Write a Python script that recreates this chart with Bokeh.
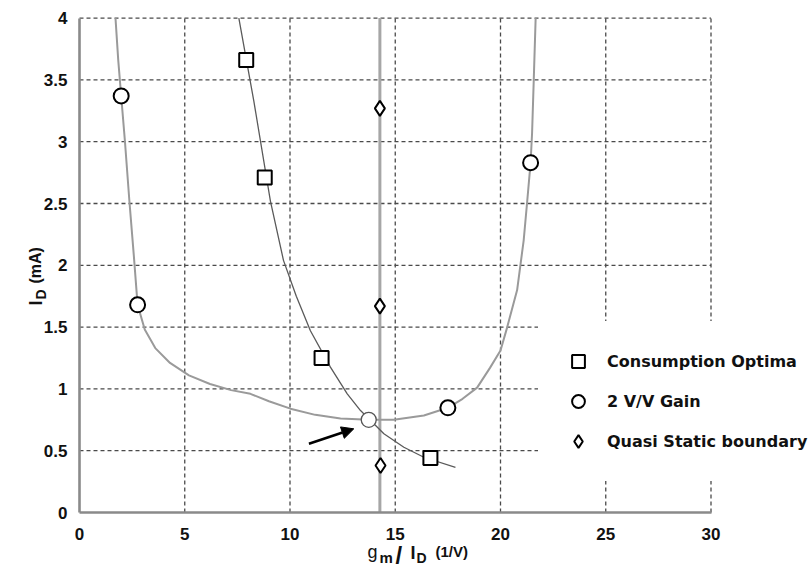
import math
from bokeh.plotting import figure
from bokeh.models import (Range1d, FixedTicker, Legend, LegendItem, Arrow,
                          NormalHead, Label)
from bokeh.embed import file_html
from bokeh.resources import INLINE

# ---- data -------------------------------------------------------------
# 2 V/V gain contour (I_D vs gm/ID)
gain_curve_x = [1.71, 1.84, 1.98, 2.16, 2.37, 2.58, 2.76, 3.1, 3.6, 4.3, 5.2,
                6.2, 7.2, 8.12, 9.0, 10.02, 11.2, 12.4, 13.74, 14.93, 16.36,
                17.5, 18.2, 18.89, 19.5, 20.0, 20.32, 20.79, 21.1, 21.27,
                21.43, 21.5, 21.58, 21.67]
gain_curve_y = [4.0, 3.66, 3.37, 3.0, 2.52, 2.08, 1.68, 1.48, 1.33, 1.21, 1.11,
                1.04, 0.99, 0.96, 0.9, 0.84, 0.79, 0.76, 0.75, 0.75, 0.785,
                0.847, 0.92, 1.01, 1.17, 1.31, 1.5, 1.8, 2.2, 2.52,
                2.83, 3.07, 3.5, 4.0]

# consumption-optimum contour
cons_curve_x = [7.57, 8.28, 9.07, 9.69, 10.3, 10.97, 11.92, 12.72, 13.35,
                14.46, 15.41, 16.36, 17.86]
cons_curve_y = [4.0, 3.33, 2.52, 2.04, 1.75, 1.47, 1.176, 0.96, 0.825,
                0.637, 0.528, 0.447, 0.366]

cons_x = [7.92, 8.80, 11.5, 16.67]
cons_y = [3.66, 2.71, 1.25, 0.44]

gain_x = [1.98, 2.76, 17.5, 21.43]
gain_y = [3.37, 1.68, 0.847, 2.83]

optimum_x = [13.74]
optimum_y = [0.75]

qs_x = [14.27, 14.27, 14.3]
qs_y = [3.27, 1.67, 0.38]
qs_boundary = 14.27

x_ticks = [0, 5, 10, 15, 20, 25, 30]
y_ticks = [0, 0.5, 1, 1.5, 2, 2.5, 3, 3.5, 4]
y_tick_labels = {0: "0", 0.5: "0.5", 1: "1", 1.5: "1.5", 2: "2",
                 2.5: "2.5", 3: "3", 3.5: "3.5", 4: "4"}

legend_labels = ["Consumption Optima", "2 V/V Gain", "Quasi Static boundary"]

# ---- page geometry ----------------------------------------------------
W, H = 812, 569
ORIGIN_X, ORIGIN_Y = 79, 512      # canvas pixel of (0, 0)
PX_PER_X, PX_PER_Y = 21.05, 123.6

x_lo, x_hi = x_ticks[0], x_ticks[-1]
y_lo, y_hi = y_ticks[0], y_ticks[-1]

# the plotting frame covers the whole canvas; axes sit at x=0 / y=0
p = figure(width=W, height=H, output_backend="svg", toolbar_location=None,
           x_range=Range1d(-ORIGIN_X / PX_PER_X, (W - ORIGIN_X) / PX_PER_X),
           y_range=Range1d(-(H - ORIGIN_Y) / PX_PER_Y, ORIGIN_Y / PX_PER_Y),
           min_border=0)
p.title.visible = False
p.outline_line_color = None
p.background_fill_color = "white"
p.border_fill_color = "white"
p.xgrid.visible = False
p.ygrid.visible = False

for ax, ticks in ((p.xaxis[0], x_ticks), (p.yaxis[0], y_ticks)):
    ax.ticker = FixedTicker(ticks=ticks)
    ax.fixed_location = 0
    ax.bounds = (ticks[0], ticks[-1])
    ax.axis_line_color = "#8a8a8a"
    ax.axis_line_width = 2.6
    ax.major_tick_line_color = None
    ax.minor_tick_line_color = None
    ax.major_label_text_font = "Liberation Sans"
    ax.major_label_text_font_style = "bold"
    ax.major_label_text_font_size = "17px"
    ax.major_label_text_color = "#111111"
p.xaxis[0].major_label_standoff = 9
p.yaxis[0].major_label_standoff = 6
p.yaxis[0].major_label_overrides = y_tick_labels

# dashed grid limited to the axes box
vx = [t for t in x_ticks if t > x_lo]
hy = [t for t in y_ticks if t > y_lo]
grid_style = dict(line_color="#4a4a4a", line_dash="4 3", line_width=1.3)
p.segment(x0=vx, y0=[y_lo] * len(vx), x1=vx, y1=[y_hi] * len(vx), **grid_style)
p.segment(x0=[x_lo] * len(hy), y0=hy, x1=[x_hi] * len(hy), y1=hy, **grid_style)

# quasi-static boundary
p.segment(x0=[qs_boundary], y0=[y_lo], x1=[qs_boundary], y1=[y_hi],
          line_color="#a6a6a6", line_width=3)

# curves
p.line(gain_curve_x, gain_curve_y, line_color="#9a9a9a", line_width=2)
p.line(cons_curve_x, cons_curve_y, line_color="#5a5a5a", line_width=1.3)

# markers
r_sq = p.scatter(cons_x, cons_y, marker="square", size=14,
                 fill_color="white", line_color="black", line_width=2)
r_ci = p.scatter(gain_x, gain_y, marker="circle", size=15,
                 fill_color="white", line_color="black", line_width=2)
p.scatter(optimum_x, optimum_y, marker="circle", size=15,
          fill_color="white", line_color="#555555", line_width=1.3)
r_di = p.scatter(qs_x, qs_y, marker="diamond", size=15,
                 fill_color="white", line_color="black", line_width=2)

# arrow pointing at the optimum
p.add_layout(Arrow(end=NormalHead(size=12, fill_color="black",
                                  line_color="black"),
                   x_start=10.9, y_start=0.556, x_end=13.03, y_end=0.677,
                   line_color="black", line_width=2.6))

# legend (white box, invisible border so the padding applies)
legend = Legend(items=[LegendItem(label=legend_labels[0], renderers=[r_sq]),
                       LegendItem(label=legend_labels[1], renderers=[r_ci]),
                       LegendItem(label=legend_labels[2], renderers=[r_di])],
                location=(538, H - 481), orientation="vertical",
                background_fill_color="white", background_fill_alpha=1.0,
                border_line_color="white", border_line_alpha=0.0,
                margin=0, padding=24, spacing=8,
                glyph_width=32, glyph_height=32, label_standoff=13,
                label_text_font="DejaVu Sans", label_text_font_style="bold",
                label_text_font_size="16px", label_text_color="#111111")
p.add_layout(legend, "center")


# axis titles built from pieces (subscripts)
def canvas_label(text, cx, cy, size, angle=0.0, style="bold", font="Liberation Sans"):
    # cx, cy: canvas pixel position of the text's left end on its baseline
    p.add_layout(Label(x=cx, y=H - cy, x_units="screen", y_units="screen",
                       text=text, angle=angle, text_font=font,
                       text_font_style=style, text_font_size=f"{size}px",
                       text_color="#111111", text_baseline="alphabetic",
                       text_align="left"))


canvas_label("g", 367, 551, 18, style="normal")
canvas_label("m", 379, 557, 15)
canvas_label("/", 395, 555, 24)
canvas_label("I", 410, 552, 18)
canvas_label("D", 416, 557, 14)
canvas_label("(1/V)", 435, 551, 15)

rot = math.pi / 2
canvas_label("I", 35, 305, 18, angle=rot)
canvas_label("D", 40, 299, 14, angle=rot)
canvas_label("(mA)", 35, 283, 16, angle=rot)

open("out.html", "w").write(file_html(p, INLINE))
